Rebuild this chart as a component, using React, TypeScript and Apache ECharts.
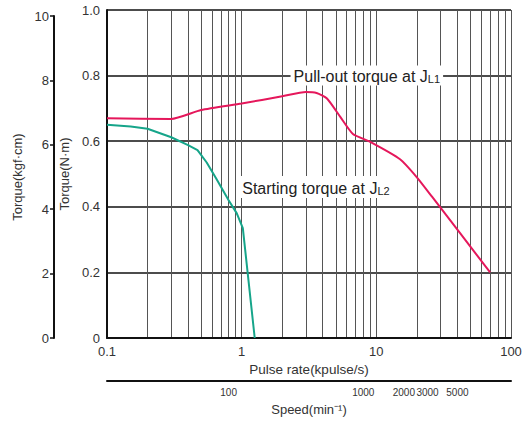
import { useEffect, useRef } from "react";
import * as echarts from "echarts";

// Pull-out torque at JL1: [pulse rate (kpulse/s), torque (N·m)]
const pulloutTorque: [number, number][] = [
  [0.1, 0.67], [0.3, 0.668], [0.5, 0.695], [1, 0.715], [2, 0.737], [3, 0.75],
  [3.6, 0.747], [4.3, 0.73], [5.4, 0.674], [6.7, 0.622], [9, 0.598],
  [15, 0.545], [20, 0.49], [26, 0.43], [70, 0.2],
];

// Starting torque at JL2
const startingTorque: [number, number][] = [
  [0.1, 0.65], [0.15, 0.645], [0.2, 0.638], [0.3, 0.612], [0.4, 0.588],
  [0.47, 0.573], [0.55, 0.535], [0.65, 0.485], [0.8, 0.42], [0.92, 0.38],
  [1.02, 0.335], [1.25, 0],
];

const pulseGridValues = [
  0.1, 0.2, 0.3, 0.4, 0.5, 0.6, 0.7, 0.8, 0.9,
  1, 2, 3, 4, 5, 6, 7, 8, 9,
  10, 20, 30, 40, 50, 60, 70, 80, 90, 100,
];
const pulseLabelValues = [0.1, 1, 10, 100];
const speedLabelValues = [100, 1000, 2000, 3000, 5000];
const speedRange = [12.5, 12500]; // speed (min-1) matching 0.1 .. 100 kpulse/s
const torqueNmRange = [0, 1];
const torqueKgfRange = [0, 10];

const FONT = "'Liberation Sans', Arial, sans-serif";
const RED = "#e5175b";
const GREEN = "#16a58a";

export default function App() {
  const ref = useRef<HTMLDivElement>(null);

  useEffect(() => {
    if (!ref.current) return;
    const chart = echarts.init(ref.current, null, { renderer: "svg" });
    const annotationRich = {
      m: { fontSize: 16, color: "#222", fontFamily: FONT, verticalAlign: "bottom", lineHeight: 18 },
      s: { fontSize: 11, color: "#222", fontFamily: FONT, verticalAlign: "bottom", lineHeight: 18 },
    };
    const option: any = {
      animation: false,
      backgroundColor: "#fff",
      textStyle: { fontFamily: FONT },
      grid: [
        { left: 107, top: 10, width: 404, height: 328 },
        { left: 54, top: 16, width: 10, height: 322 },
        { left: 107, top: 371, width: 404, height: 10 },
      ],
      xAxis: [
        {
          type: "log",
          logBase: 10,
          gridIndex: 0,
          min: 0.1,
          max: 100,
          axisLine: { show: true, lineStyle: { color: "#111", width: 2 } },
          axisTick: { show: false, customValues: pulseGridValues },
          axisLabel: {
            customValues: pulseLabelValues,
            formatter: (v: number) => String(v),
            fontSize: 13,
            color: "#333",
            margin: 7,
            fontFamily: FONT,
          },
          splitLine: { show: true, lineStyle: { color: "#555", width: 1 } },
          name: "Pulse rate(kpulse/s)",
          nameLocation: "middle",
          nameGap: 17,
          nameTextStyle: { fontSize: 13.5, color: "#333", fontFamily: FONT },
        },
        { type: "value", gridIndex: 1, show: false },
        {
          type: "log",
          logBase: 10,
          gridIndex: 2,
          min: speedRange[0],
          max: speedRange[1],
          axisLine: { show: true, lineStyle: { color: "#111", width: 2 } },
          axisTick: { show: false },
          axisLabel: {
            customValues: speedLabelValues,
            formatter: (v: number) => String(v),
            fontSize: 10,
            color: "#333",
            margin: 6,
            fontFamily: "'Liberation Sans Narrow', 'Liberation Sans', Arial, sans-serif",
          },
          splitLine: { show: false },
          name: "Speed(min⁻¹)",
          nameLocation: "middle",
          nameGap: 22,
          nameTextStyle: { fontSize: 13, color: "#333", fontFamily: FONT },
        },
      ],
      yAxis: [
        {
          type: "value",
          gridIndex: 0,
          min: torqueNmRange[0],
          max: torqueNmRange[1],
          interval: 0.2,
          axisLine: { show: true, lineStyle: { color: "#111", width: 2 } },
          axisTick: { show: false },
          axisLabel: {
            formatter: (v: number) => (v === 0 ? "0" : v.toFixed(1)),
            fontSize: 13,
            color: "#333",
            margin: 7,
            fontFamily: FONT,
          },
          splitLine: { show: true, lineStyle: { color: "#111", width: 1.5 } },
          name: "Torque(N·m)",
          nameLocation: "middle",
          nameGap: 28,
          nameTextStyle: { fontSize: 13, color: "#333", fontFamily: FONT },
        },
        {
          type: "value",
          gridIndex: 1,
          min: torqueKgfRange[0],
          max: torqueKgfRange[1],
          interval: 2,
          position: "left",
          axisLine: { show: true, lineStyle: { color: "#111", width: 2 } },
          axisTick: { show: true, length: 4, lineStyle: { color: "#111", width: 1.5 } },
          axisLabel: { fontSize: 13, color: "#333", margin: 5, fontFamily: FONT },
          splitLine: { show: false },
          name: "Torque(kgf·cm)",
          nameLocation: "middle",
          nameGap: 30,
          nameTextStyle: { fontSize: 13, color: "#333", fontFamily: FONT },
        },
        { type: "value", gridIndex: 2, show: false },
      ],
      series: [
        {
          type: "line",
          name: "Pull-out torque at JL1",
          xAxisIndex: 0,
          yAxisIndex: 0,
          data: pulloutTorque,
          smooth: 0.2,
          symbol: "none",
          lineStyle: { color: RED, width: 2 },
          z: 3,
          markPoint: {
            symbol: "rect",
            symbolSize: 1,
            itemStyle: { color: "rgba(0,0,0,0)" },
            label: {
              show: true,
              position: "inside",
              formatter: "{m|Pull-out torque at J}{s|L1}",
              backgroundColor: "#fff",
              padding: [1, 3],
              rich: annotationRich,
            },
            data: [{ coord: [8.5, 0.8] }],
          },
        },
        {
          type: "line",
          name: "Starting torque at JL2",
          xAxisIndex: 0,
          yAxisIndex: 0,
          data: startingTorque,
          smooth: false,
          symbol: "none",
          lineStyle: { color: GREEN, width: 2 },
          z: 3,
          markPoint: {
            symbol: "rect",
            symbolSize: 1,
            itemStyle: { color: "rgba(0,0,0,0)" },
            label: {
              show: true,
              position: "inside",
              formatter: "{m|Starting torque at J}{s|L2}",
              backgroundColor: "#fff",
              padding: [2, 3],
              rich: annotationRich,
            },
            data: [{ coord: [3.56, 0.46] }],
          },
        },
      ],
    };
    chart.setOption(option);
    return () => chart.dispose();
  }, []);

  return (
    <div
      ref={ref}
      style={{ position: "absolute", left: 0, top: 0, width: 526, height: 422 }}
    />
  );
}
